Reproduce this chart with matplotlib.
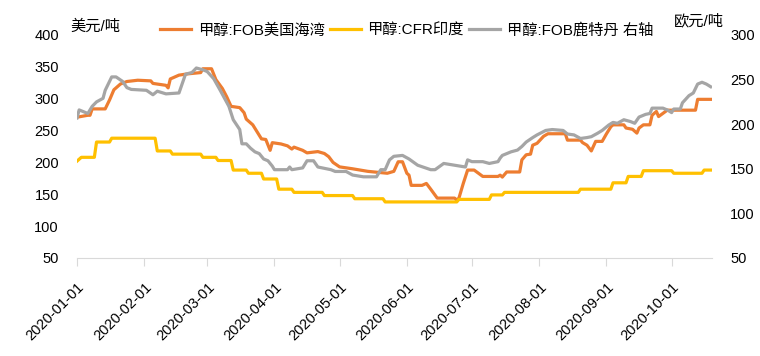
import numpy as np
import pandas as pd
import matplotlib
matplotlib.use('Agg')
import matplotlib.pyplot as plt
import matplotlib.dates as mdates

plt.rcParams['font.family'] = ['Liberation Sans', 'Noto Sans CJK SC']

start = pd.Timestamp('2020-01-01')

# 甲醇:FOB美国海湾 (left axis, USD/t)
us_day = [0, 5, 6, 7, 13, 15, 17, 20, 23, 28, 34, 35, 37, 41, 42, 43, 47, 51, 57, 58,
          62, 64, 67, 69, 71, 75, 77, 78, 81, 83, 85, 87, 89, 90, 94, 97, 99, 100, 104, 106,
          111, 114, 116, 118, 121, 127, 134, 140, 143, 146, 148, 150, 152, 153, 154, 159, 161, 163, 166, 174,
          175, 176, 178, 180, 183, 187, 194, 195, 196, 198, 204, 205, 207, 209, 210, 212, 215, 217, 225, 226,
          232, 233, 235, 237, 239, 242, 244, 246, 247, 252, 253, 256, 258, 259, 261, 264, 265, 267, 268, 270,
          272, 285, 286, 292]
us_val = [271, 274, 274, 284, 284, 298, 314, 323, 327, 329, 328, 324, 323, 321, 317, 331, 337, 339, 341, 347,
          347, 330, 316, 303, 288, 286, 278, 268, 259, 248, 237, 236, 219, 231, 229, 226, 221, 224, 219, 215,
          217, 214, 209, 200, 193, 190, 186, 184, 183, 186, 201, 201, 183, 180, 164, 164, 167, 158, 144, 144,
          141, 144, 167, 188, 188, 178, 178, 180, 177, 185, 185, 204, 212, 213, 227, 230, 241, 245, 245, 235,
          235, 231, 227, 218, 233, 233, 245, 256, 259, 259, 254, 252, 246, 254, 259, 259, 274, 280, 272, 277,
          282, 282, 299, 299]

# 甲醇:CFR印度 (left axis, USD/t)
in_day = [0, 2, 8, 9, 15, 16, 36, 37, 43, 44, 57, 58, 64, 65, 71, 72, 78, 79, 85, 86,
          92, 93, 99, 100, 113, 114, 127, 128, 141, 142, 175, 176, 190, 191, 196, 197, 231, 232, 246, 247,
          253, 254, 260, 261, 274, 275, 288, 289, 292]
in_val = [202, 208, 208, 232, 232, 238, 238, 218, 218, 213, 213, 208, 208, 203, 203, 188, 188, 183, 183, 174,
          174, 158, 158, 153, 153, 148, 148, 143, 143, 138, 138, 142, 142, 149, 149, 153, 153, 158, 158, 168,
          168, 178, 178, 187, 187, 183, 183, 188, 188]

# 甲醇:FOB鹿特丹 (right axis, EUR/t)
rt_day = [0, 1, 5, 7, 9, 12, 13, 16, 18, 21, 23, 25, 32, 35, 37, 41, 47, 50, 53, 55,
          58, 60, 63, 66, 70, 72, 75, 76, 78, 80, 82, 84, 86, 88, 90, 91, 97, 98, 99, 104,
          106, 109, 111, 113, 117, 119, 124, 127, 132, 138, 140, 142, 144, 146, 150, 153, 157, 163, 165, 169,
          174, 179, 180, 182, 187, 190, 194, 195, 196, 200, 203, 205, 207, 210, 212, 216, 219, 224, 226, 229,
          232, 235, 237, 240, 242, 245, 247, 249, 252, 255, 257, 259, 262, 264, 265, 270, 272, 274, 275, 278,
          279, 282, 284, 286, 288, 290, 292]
rt_val = [207, 216, 212, 220, 225, 229, 238, 253, 253, 248, 241, 239, 238, 233, 237, 234, 235, 256, 258, 263,
          261, 259, 251, 238, 220, 205, 194, 178, 178, 173, 169, 167, 161, 159, 153, 149, 149, 152, 149, 151,
          159, 159, 152, 151, 149, 147, 147, 143, 141, 141, 149, 149, 160, 164, 165, 161, 154, 149, 149, 156,
          154, 152, 160, 158, 158, 156, 158, 162, 165, 169, 171, 175, 180, 185, 188, 193, 194, 193, 189, 188,
          184, 185, 186, 190, 193, 199, 202, 201, 205, 203, 201, 208, 211, 212, 218, 218, 216, 213, 217, 217,
          224, 232, 235, 245, 247, 245, 242]

labels = ['甲醇:FOB美国海湾', '甲醇:CFR印度', '甲醇:FOB鹿特丹 右轴']
colors = ['#ED7D31', '#FFC000', '#A5A5A5']


def to_dates(days):
    return start + pd.to_timedelta(days, unit='D')


fig = plt.figure(figsize=(7.6, 3.56), dpi=100)
ax = fig.add_axes([0.1013, 0.2753, 0.8355, 0.6264])
ax2 = ax.twinx()

l1, = ax.plot(to_dates(us_day), us_val, color=colors[0], lw=2.3, label=labels[0])
l2, = ax.plot(to_dates(in_day), in_val, color=colors[1], lw=2.3, label=labels[1])
l3, = ax2.plot(to_dates(rt_day), rt_val, color=colors[2], lw=2.3, label=labels[2])

ax.set_xlim(start, start + pd.Timedelta(days=292.6))
ax.set_ylim(50, 400)
ax.set_yticks(np.arange(50, 401, 50))
ax2.set_ylim(50, 300)
ax2.set_yticks(np.arange(50, 301, 50))

ax.xaxis.set_major_locator(mdates.MonthLocator())
ax.xaxis.set_major_formatter(mdates.DateFormatter('%Y-%m-%d'))

for a in (ax, ax2):
    for s in ['top', 'left', 'right']:
        a.spines[s].set_visible(False)
    a.spines['bottom'].set_color('#D9D9D9')
ax2.spines['bottom'].set_visible(False)

ax.tick_params(axis='y', length=0, pad=13, labelsize=10.5, labelcolor='#000000')
ax2.tick_params(axis='y', length=0, pad=13, labelsize=10.5, labelcolor='#000000')
ax.tick_params(axis='x', length=6, color='#D9D9D9', pad=10, labelsize=10.5)
for lab in ax.get_xticklabels():
    lab.set_rotation(45)
    lab.set_ha('right')
    lab.set_rotation_mode('anchor')

fig.text(0.092, 0.925, '美元/吨', fontsize=11, ha='left', va='center')
fig.text(0.952, 0.94, '欧元/吨', fontsize=11, ha='right', va='center')

fig.legend(handles=[l1, l2, l3], loc='center', bbox_to_anchor=(0.535, 0.915), ncol=3,
           frameon=False, fontsize=11, handlelength=2.0, handletextpad=0.45,
           columnspacing=0.35)

fig.savefig('out.png', dpi=100)
